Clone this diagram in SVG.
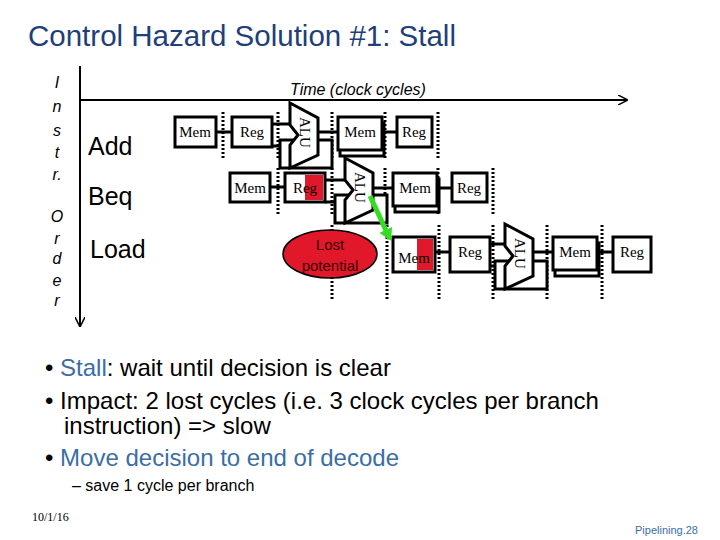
<svg xmlns="http://www.w3.org/2000/svg" width="720" height="540" viewBox="0 0 720 540">
<style>
.s{font-family:"Liberation Sans",Arial,sans-serif}
.t{font-family:"Liberation Serif","Times New Roman",serif;font-size:15px}
.b{fill:#fff;stroke:#000;stroke-width:3}
.d{stroke:#000;stroke-width:3;stroke-dasharray:2 2}
.w{stroke:#000;stroke-width:3;fill:none}
.bl{fill:#3a6ea5}
</style>
<defs>
<marker id="a" markerWidth="10" markerHeight="10" refX="9" refY="5" orient="auto" markerUnits="userSpaceOnUse"><path d="M0,0L10,5L0,10" fill="none" stroke="#000" stroke-width="1.5"/></marker>
<marker id="g" markerWidth="14" markerHeight="14" refX="10" refY="7" orient="auto" markerUnits="userSpaceOnUse"><path d="M0,0L12,7L0,14z" fill="#33dd22"/></marker>
<g id="alu"><rect class="b" x="-10" y="37" width="52" height="28"/><path class="b" d="M0,0L28,15L28,52L0,65L0,42L8,32L0,22Z"/><text class="t" transform="translate(10,14) rotate(90)">ALU</text></g>
</defs>
<rect width="720" height="540" fill="#fff"/>
<text class="s" x="28" y="46" font-size="29.5" fill="#1f3f7a">Control Hazard Solution #1: Stall</text>
<g id="axes">
<line x1="80" y1="100" x2="627" y2="100" stroke="#000" stroke-width="2" marker-end="url(#a)"/>
<line x1="80" y1="66" x2="80" y2="326" stroke="#000" stroke-width="2" marker-end="url(#a)"/>
<text class="s" x="290" y="95" font-size="16" font-style="italic">Time (clock cycles)</text>
<g class="s" font-size="16" font-style="italic" text-anchor="middle">
<text x="57" y="88">I</text><text x="57" y="112">n</text><text x="57" y="136">s</text><text x="57" y="158">t</text><text x="57" y="180">r.</text>
<text x="57" y="222">O</text><text x="57" y="244">r</text><text x="57" y="264">d</text><text x="57" y="286">e</text><text x="57" y="306">r</text></g>
<g class="s" font-size="25"><text x="88" y="155">Add</text><text x="88" y="205">Beq</text><text x="90" y="258">Load</text></g>
</g>
<g id="dots">
<line class="d" x1="223" y1="112" x2="223" y2="160"/><line class="d" x1="278" y1="112" x2="278" y2="160"/><line class="d" x1="332" y1="112" x2="332" y2="160"/><line class="d" x1="385" y1="112" x2="385" y2="160"/><line class="d" x1="438" y1="112" x2="438" y2="160"/>
<line class="d" x1="278" y1="168" x2="278" y2="215"/><line class="d" x1="332" y1="168" x2="332" y2="215"/><line class="d" x1="385" y1="168" x2="385" y2="215"/><line class="d" x1="438" y1="168" x2="438" y2="215"/><line class="d" x1="493" y1="168" x2="493" y2="215"/>
<line class="d" x1="332" y1="225" x2="332" y2="300"/><line class="d" x1="387" y1="225" x2="387" y2="300"/><line class="d" x1="439" y1="225" x2="439" y2="300"/><line class="d" x1="493" y1="225" x2="493" y2="300"/><line class="d" x1="547" y1="225" x2="547" y2="300"/><line class="d" x1="602" y1="225" x2="602" y2="300"/>
</g>
<g id="connectors">
<path class="w" d="M216,132H232M272,124H290M272,146H290M318,132H338M382,132H397"/>
<path class="w" d="M270,187H285M325,180H345M325,202H345M373,188H393M437,188H452"/>
<path class="w" d="M435,252H450M490,244H505M490,266H505M533,252H553M597,252H613"/>
</g>
<g id="add">
<rect class="b" x="175" y="117" width="41" height="30"/><text class="t" x="195" y="137" text-anchor="middle">Mem</text>
<rect class="b" x="232" y="117" width="40" height="30"/><text class="t" x="252" y="137" text-anchor="middle">Reg</text>
<use href="#alu" x="290" y="103"/>
<rect class="b" x="340" y="123" width="44" height="33"/><rect class="b" x="338" y="117" width="44" height="33"/><text class="t" x="360" y="137" text-anchor="middle">Mem</text>
<rect class="b" x="397" y="117" width="35" height="30"/><text class="t" x="414" y="137" text-anchor="middle">Reg</text>
</g>
<g id="beq">
<rect class="b" x="230" y="173" width="40" height="29"/><text class="t" x="250" y="193" text-anchor="middle">Mem</text>
<rect class="b" x="285" y="173" width="40" height="29"/><rect x="305" y="175" width="18" height="25" fill="#e0182a"/><text class="t" x="305" y="193" text-anchor="middle">Reg</text>
<use href="#alu" x="345" y="158"/>
<rect class="b" x="395" y="179" width="44" height="33"/><rect class="b" x="393" y="173" width="44" height="33"/><text class="t" x="415" y="193" text-anchor="middle">Mem</text>
<rect class="b" x="452" y="173" width="35" height="29"/><text class="t" x="469" y="193" text-anchor="middle">Reg</text>
</g>
<g id="lost"><ellipse cx="330" cy="254" rx="47" ry="24" fill="#e0182a" stroke="#000" stroke-width="1.5"/><text class="s" x="330" y="250" font-size="15" text-anchor="middle" fill="#3a0000">Lost</text><text class="s" x="330" y="271" font-size="15" text-anchor="middle" fill="#3a0000">potential</text></g>
<g id="load">
<rect class="b" x="393" y="237" width="42" height="35"/><rect x="417" y="239" width="16" height="31" fill="#e0182a"/><text class="t" x="414" y="263" text-anchor="middle">Mem</text>
<rect class="b" x="450" y="237" width="40" height="35"/><text class="t" x="470" y="257" text-anchor="middle">Reg</text>
<use href="#alu" x="505" y="224"/>
<rect class="b" x="555" y="243" width="44" height="33"/><rect class="b" x="553" y="237" width="44" height="33"/><text class="t" x="575" y="257" text-anchor="middle">Mem</text>
<rect class="b" x="613" y="237" width="38" height="35"/><text class="t" x="632" y="257" text-anchor="middle">Reg</text>
</g>
<g id="branch-arrow"><line x1="370" y1="196" x2="390" y2="239" stroke="#33dd22" stroke-width="5" marker-end="url(#g)"/></g>
<g id="bullets" class="s" font-size="24">
<text x="45" y="376">• <tspan class="bl">Stall</tspan>: wait until decision is clear</text>
<text x="45" y="409">• Impact: 2 lost cycles (i.e. 3 clock cycles per branch</text>
<text x="64" y="434">instruction) =&gt; slow</text>
<text x="45" y="466">• <tspan class="bl">Move decision to end of decode</tspan></text>
<text x="72" y="491" font-size="16">– save 1 cycle per branch</text>
</g>
<text x="32" y="521" font-family="Liberation Serif,serif" font-size="12">10/1/16</text>
<text x="698" y="534" class="s" font-size="11" fill="#3a6ea5" text-anchor="end">Pipelining.28</text>
</svg>
